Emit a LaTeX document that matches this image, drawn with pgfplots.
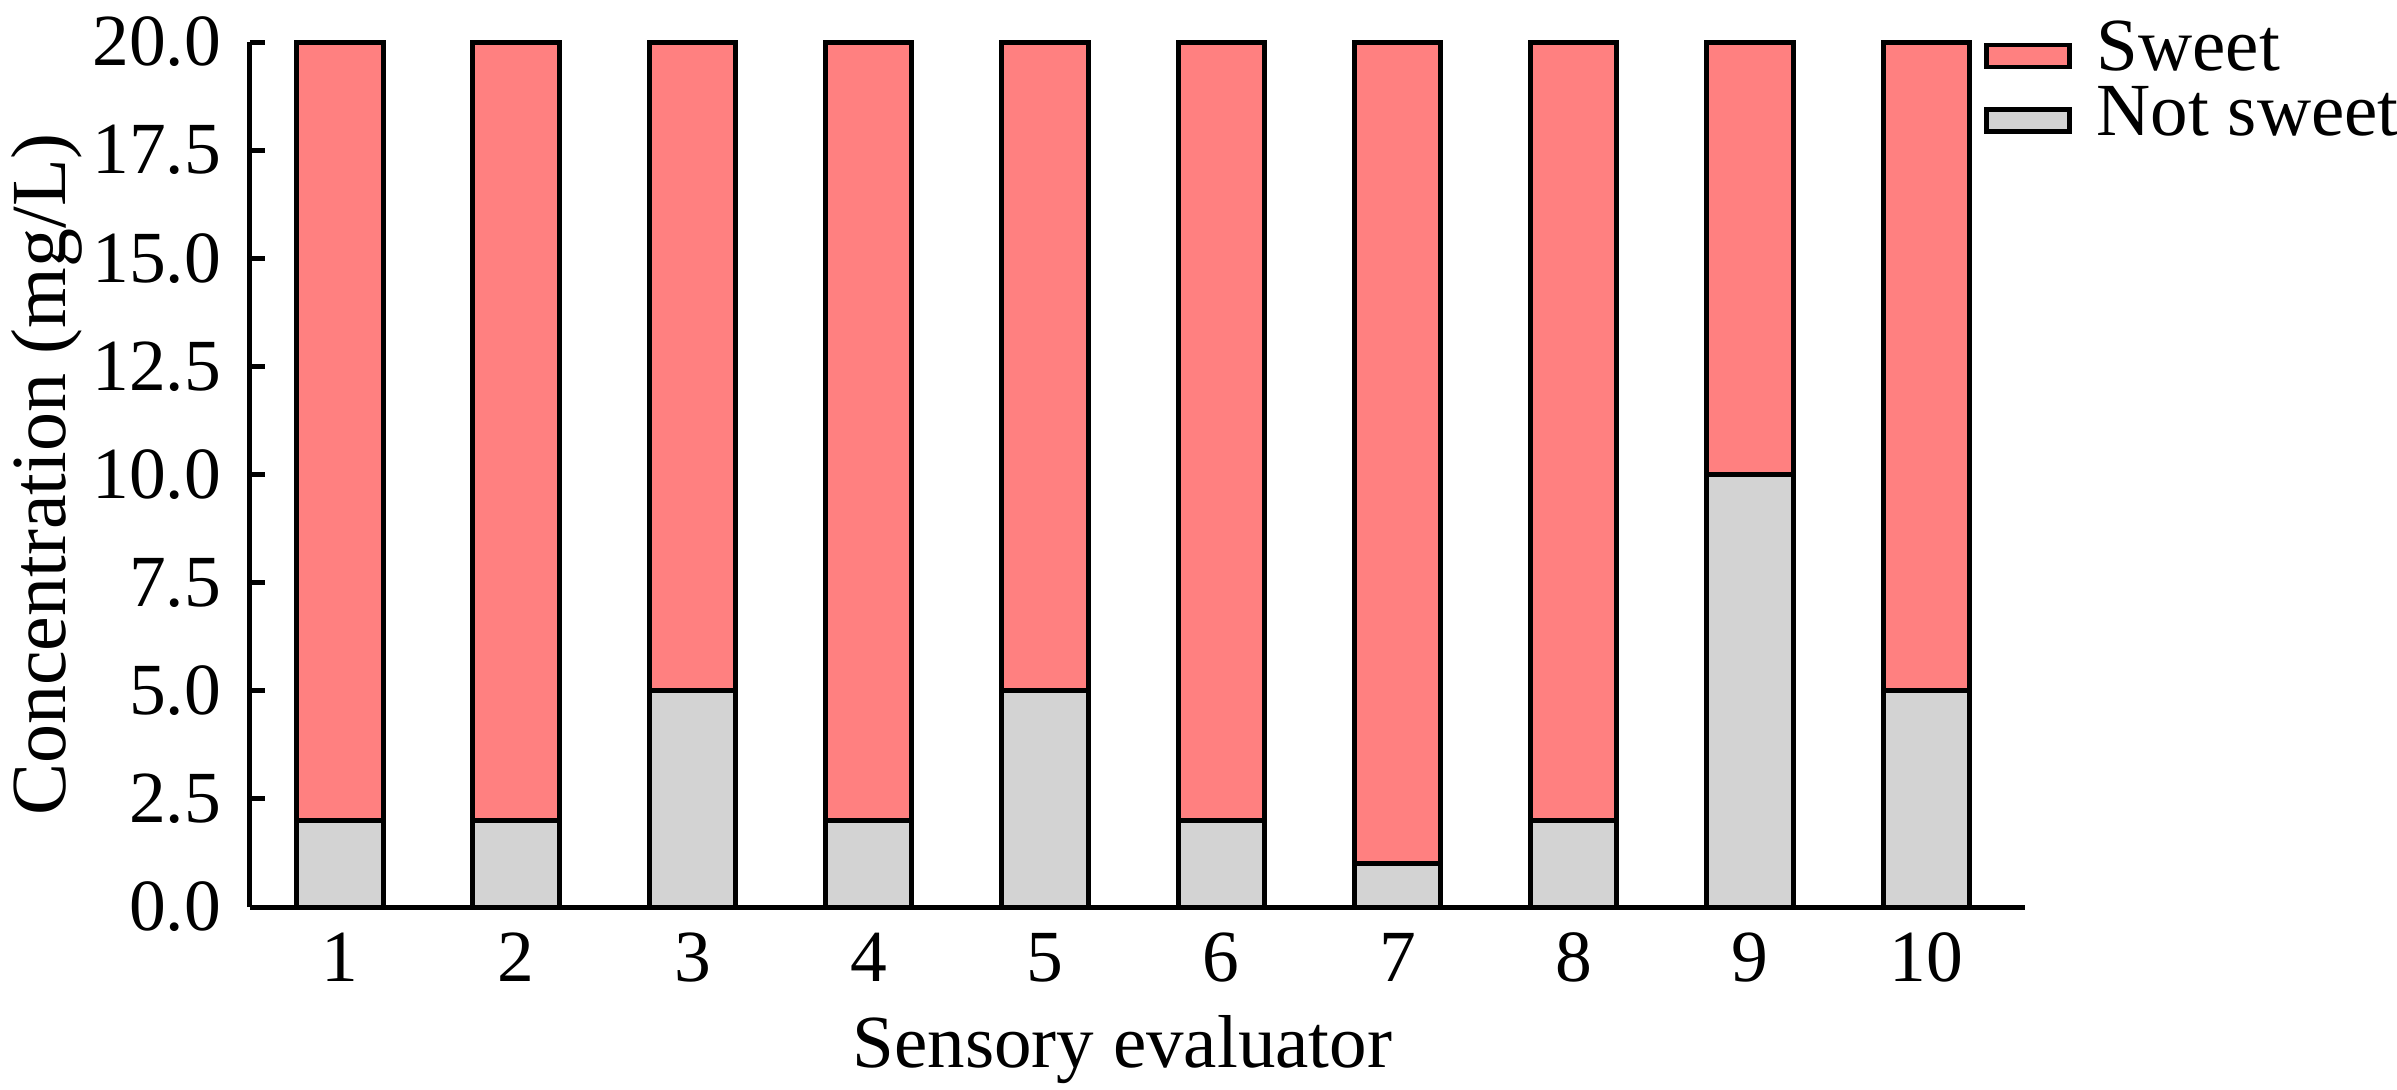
\documentclass[border=0pt]{standalone}
\usepackage{pgfplots}
\pgfplotsset{compat=1.18}
\usepackage{fontspec}
\setmainfont{Liberation Serif}
\definecolor{sweetc}{RGB}{255,128,128}
\definecolor{notc}{RGB}{211,211,211}
\pgfplotsset{
  swatch/.style={legend image code/.code={\draw[##1,line width=0.9pt] (0pt,0.8pt) rectangle (16.6pt,5.2pt);}}
}
\begin{document}
\begin{tikzpicture}
\begin{axis}[
  scale only axis,
  width=355pt, height=173pt,
  xmin=0.49, xmax=10.56, ymin=0, ymax=20,
  clip=false,
  axis x line=bottom, axis y line=left,
  axis line style={-, line width=1pt},
  ybar stacked, bar width=0.49,
  xtick={1,2,3,4,5,6,7,8,9,10},
  xticklabels={1,2,3,4,5,6,7,8,9,10},
  x tick style={draw=none},
  ytick={0,2.5,5,7.5,10,12.5,15,17.5,20},
  y tick style={line width=1pt, black},
  tick align=inside,
  major tick length=3pt,
  yticklabel style={/pgf/number format/fixed, /pgf/number format/fixed zerofill, /pgf/number format/precision=1, /pgf/number format/assume math mode=true},
  yticklabel style={inner sep=0pt, xshift=-5.6pt},
  xticklabel style={inner sep=0pt, yshift=-5pt},
  tick label style={font=\fontsize{14.7}{16}\selectfont},
  xlabel style={font=\fontsize{15}{17}\selectfont},
  ylabel style={font=\fontsize{15.6}{17}\selectfont},
  xlabel={Sensory evaluator},
  ylabel={Concentration (mg/L)},
  xlabel style={at={(axis description cs:0.5,0)}, anchor=base, yshift=-32pt, xshift=-3pt, inner sep=0pt},
  ylabel style={at={(axis description cs:-0.135,0.5)}, anchor=north, inner sep=0pt},
  legend style={at={(axis description cs:0.977,1.024)}, anchor=north west, draw=none, fill=none,
    inner sep=0pt, outer sep=0pt, font=\fontsize{15}{17}\selectfont,
    nodes={inner sep=0pt, anchor=base west}, column sep=5pt, row sep=1.6pt},
  reverse legend,
]
\addplot[ybar, fill=notc, draw=black, line width=1pt, swatch] coordinates {
(1,2) (2,2) (3,5) (4,2) (5,5) (6,2) (7,1) (8,2) (9,10) (10,5)};
\addlegendentry{Not sweet}
\addplot[ybar, fill=sweetc, draw=black, line width=1pt, swatch] coordinates {
(1,18) (2,18) (3,15) (4,18) (5,15) (6,18) (7,19) (8,18) (9,10) (10,15)};
\addlegendentry{Sweet}
\coordinate (O) at (rel axis cs:0,0);
\end{axis}
\pgfresetboundingbox
\path[use as bounding box] ([xshift=-50pt,yshift=-36.4pt]O) rectangle ++(479.4pt,217.8pt);
\end{tikzpicture}
\end{document}
